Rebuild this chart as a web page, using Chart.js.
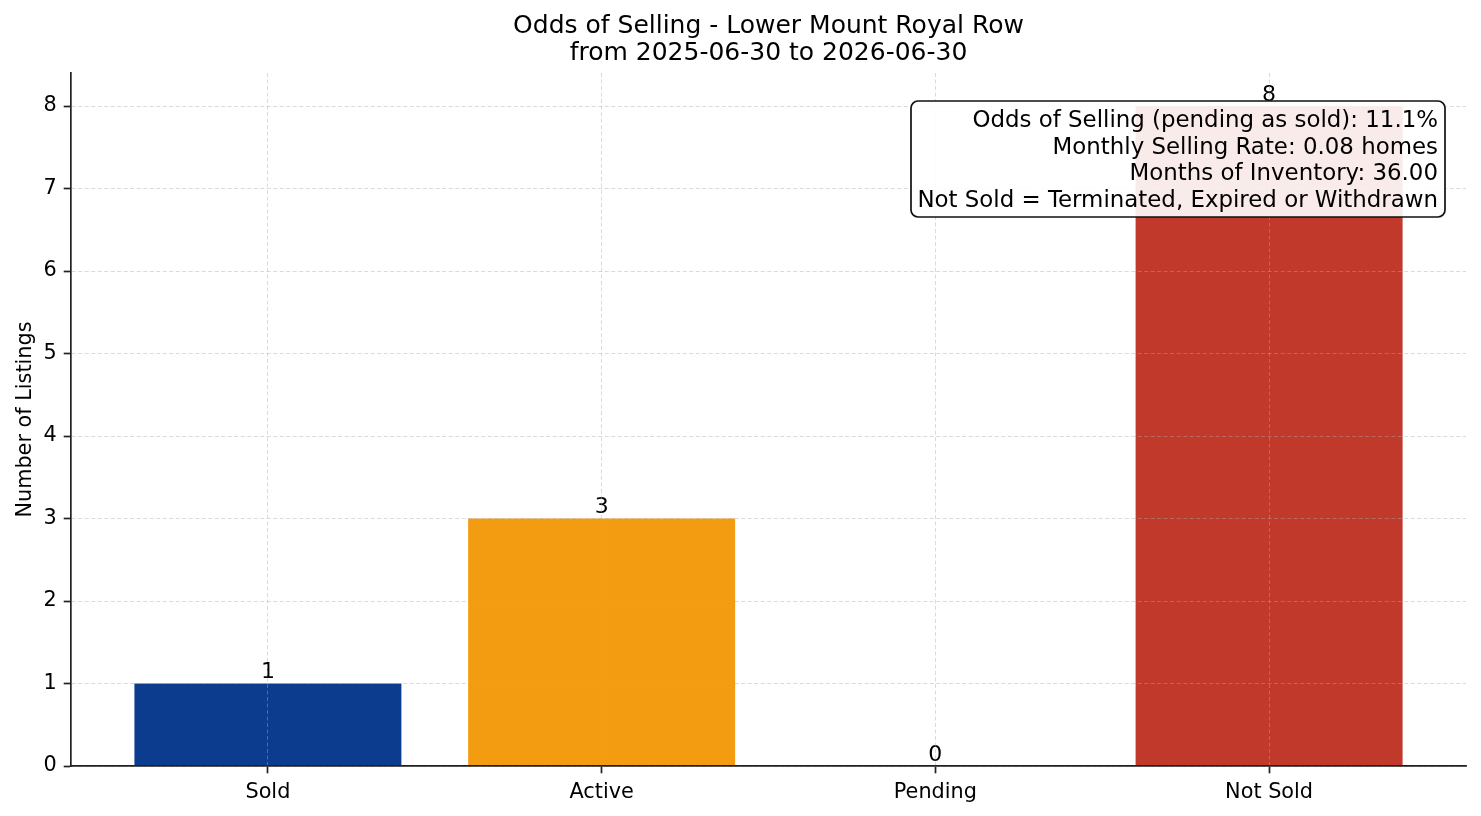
<!DOCTYPE html>
<html>
<head>
<meta charset="utf-8">
<script src="https://cdn.jsdelivr.net/npm/chart.js@4/dist/chart.umd.min.js"></script>
<style>
html,body{margin:0;padding:0;background:#fff;}
#wrap{width:1481px;height:816px;position:relative;}
</style>
</head>
<body>
<div id="wrap"><canvas id="c" width="1481" height="816"></canvas></div>
<script>
const categories = ['Sold', 'Active', 'Pending', 'Not Sold'];
const counts = [1, 3, 0, 8];
const barColors = ['#0b3c8e', '#f39c12', '#7f8c8d', '#c0392b'];
const yTicks = [0, 1, 2, 3, 4, 5, 6, 7, 8];
const titleLines = ['Odds of Selling - Lower Mount Royal Row', 'from 2025-06-30 to 2026-06-30'];
const infoLines = [
  'Odds of Selling (pending as sold): 11.1%',
  'Monthly Selling Rate: 0.08 homes',
  'Months of Inventory: 36.00',
  'Not Sold = Terminated, Expired or Withdrawn'
];

const FONT = "'DejaVu Sans', 'Liberation Sans', sans-serif";
Chart.defaults.font.family = FONT;
Chart.defaults.color = '#000';

const overlay = {
  id: 'overlay',
  afterDatasetsDraw(chart) {
    const ctx = chart.ctx;
    const meta = chart.getDatasetMeta(0);
    ctx.save();
    ctx.fillStyle = '#000';
    ctx.font = '22px ' + FONT;
    ctx.textAlign = 'center';
    ctx.textBaseline = 'alphabetic';
    meta.data.forEach((bar, i) => {
      ctx.fillText(String(counts[i]), bar.x, bar.y - 5.5);
    });
    ctx.restore();
  },
  afterDraw(chart) {
    const ctx = chart.ctx;
    const area = chart.chartArea;
    ctx.save();
    ctx.fillStyle = '#000';
    ctx.font = '25px ' + FONT;
    ctx.textAlign = 'center';
    ctx.textBaseline = 'middle';
    const cx = (area.left + area.right) / 2;
    ctx.fillText(titleLines[0], cx, 26);
    ctx.fillText(titleLines[1], cx, 53);
    ctx.font = '22.9px ' + FONT;
    const bx = 911, by = 101, bw = 534, bh = 116, r = 7;
    ctx.beginPath();
    ctx.roundRect(bx, by, bw, bh, r);
    ctx.fillStyle = 'rgba(255,255,255,0.9)';
    ctx.fill();
    ctx.lineWidth = 1.7;
    ctx.strokeStyle = '#111';
    ctx.stroke();
    ctx.fillStyle = '#000';
    ctx.textAlign = 'right';
    ctx.textBaseline = 'middle';
    const ys = [120, 146.5, 173, 199.5];
    infoLines.forEach((t, i) => ctx.fillText(t, 1438, ys[i] + 1.5));
    ctx.restore();
  }
};

const gridOpts = {
  z: 1,
  offset: false,
  color: 'rgba(170,170,170,0.55)',
  lineWidth: 0.8,
  tickLength: 7.3,
  tickColor: '#222',
  tickWidth: 1.7,
  tickBorderDash: []
};
const borderOpts = {display: true, color: '#222', width: 1.7, z: 2, dash: [4, 2.5]};

new Chart(document.getElementById('c'), {
  type: 'bar',
  data: {
    datasets: [{
      data: counts.map((v, i) => ({x: i, y: v})),
      backgroundColor: barColors,
      borderWidth: 0,
      barPercentage: 0.8,
      categoryPercentage: 1.0
    }]
  },
  options: {
    responsive: false,
    animation: false,
    devicePixelRatio: 1,
    layout: {padding: {top: 73, right: 15, left: 0, bottom: 0}},
    plugins: {legend: {display: false}, title: {display: false}, tooltip: {enabled: false}},
    scales: {
      x: {
        type: 'linear',
        offset: false,
        min: -0.59,
        max: 3.59,
        afterFit(s) { s.height = 50; },
        afterBuildTicks(s) { s.ticks = categories.map((c, i) => ({value: i})); },
        ticks: {
          callback: (v) => categories[v],
          font: {size: 20.8},
          color: '#000',
          padding: 7,
          maxRotation: 0,
          autoSkip: false
        },
        grid: gridOpts,
        border: borderOpts
      },
      y: {
        min: 0,
        max: 8.4,
        afterFit(s) { s.width = 71; },
        afterBuildTicks(s) { s.ticks = yTicks.map(v => ({value: v})); },
        ticks: {
          font: {size: 20.8},
          color: '#000',
          padding: 7
        },
        title: {
          display: true,
          text: 'Number of Listings',
          font: {size: 20.8},
          color: '#000',
          padding: {top: 13, bottom: 0}
        },
        grid: gridOpts,
        border: borderOpts
      }
    }
  },
  plugins: [overlay]
});
</script>
</body>
</html>
